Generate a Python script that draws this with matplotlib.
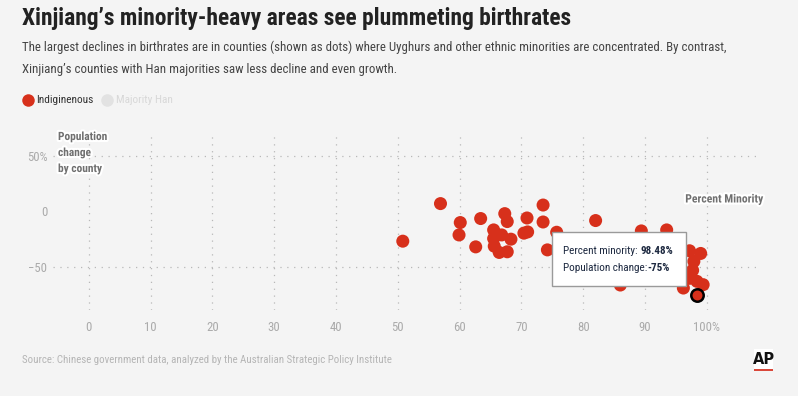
import matplotlib
matplotlib.use("Agg")
import matplotlib.pyplot as plt
import matplotlib.patheffects as pe
from matplotlib import font_manager
from matplotlib.lines import Line2D
from matplotlib.patches import Rectangle

# percent minority (x) and population change % (y)
minority = [50.8, 56.9, 60.1, 59.9, 63.4, 62.6, 67.3, 67.7, 65.5, 65.5,
            65.6, 66.8, 68.3, 66.4, 67.7, 70.9, 73.5, 73.5, 70.4, 71.0,
            74.2, 75.7, 82.0, 86.0, 89.4, 93.5, 97.2, 99.0, 97.9, 97.7,
            97.2, 98.4, 99.4, 96.2]
change = [-26.8, 6.9, -10.1, -21.2, -6.5, -31.9, -2.1, -9.2, -16.7, -24.4,
          -31.3, -21.2, -25.0, -36.9, -36.3, -6.0, 5.6, -9.6, -19.6, -18.5,
          -34.6, -18.8, -8.3, -66.1, -17.6, -16.7, -35.4, -37.8, -44.9, -52.9,
          -60.1, -62.8, -65.8, -68.8]

# the county under the tooltip
hl_minority = 98.48
hl_change = -75

x_ticks = [0, 10, 20, 30, 40, 50, 60, 70, 80, 90, 100]
x_labels = ["0", "10", "20", "30", "40", "50", "60", "70", "80", "90", "100%"]
y_ticks = [50, 0, -50]
y_labels = ["50%", "0", "\u221250"]

RED = "#d7301b"
BG = "#f4f4f4"
W, H = 798, 396

names = {f.name for f in font_manager.fontManager.ttflist}
cond = next((n for n in ["Roboto Condensed", "Liberation Sans Narrow", "Open Sans Condensed"]
             if n in names), "DejaVu Sans")
plt.rcParams["font.family"] = [cond, "DejaVu Sans"]


def fx(px):
    return px / W


def fy(py):
    return 1 - py / H


fig = plt.figure(figsize=(W / 100, H / 100), dpi=100)
fig.patch.set_facecolor(BG)

ax = fig.add_axes([fx(53), fy(310), fx(760) - fx(53), fy(135) - fy(310)])
ax.set_facecolor(BG)
ax.set_xlim(-5.8, 108.6)
ax.set_ylim(-88.5, 68.4)
for s in ax.spines.values():
    s.set_visible(False)

# dotted grid
for v in x_ticks:
    ax.axvline(v, color="#b8b8b8", lw=0.9, ls=(0, (1, 4.5)), zorder=0)
for v in [50, -50]:
    ax.axhline(v, color="#b8b8b8", lw=0.9, ls=(0, (1, 4.5)), zorder=0)

ax.set_xticks(x_ticks)
ax.set_xticklabels(x_labels)
ax.set_yticks(y_ticks)
ax.set_yticklabels(y_labels)
ax.tick_params(length=0, colors="#aaaaaa", labelsize=9.2)
ax.tick_params(axis="x", pad=8)
ax.tick_params(axis="y", pad=4)

ax.scatter(minority, change, s=88, color=RED, edgecolors="none", zorder=3)
ax.scatter([hl_minority], [hl_change], s=80, color=RED, edgecolors="black",
           linewidths=1.8, zorder=4)

halo = [pe.withStroke(linewidth=3, foreground="white")]
for py, line in [(137, "Population"), (153, "change"), (169, "by county")]:
    fig.text(fx(58), fy(py), line, ha="left", va="center",
             fontsize=8.2, fontweight="bold", color="#707070", path_effects=halo)
fig.text(fx(763), fy(199), "Percent Minority", ha="right", va="center",
         fontsize=8.4, fontweight="bold", color="#707070", path_effects=halo)

# title block
fig.text(fx(22), fy(18), "Xinjiang\u2019s minority-heavy areas see plummeting birthrates",
         ha="left", va="center", fontsize=16.9, fontweight="bold", color="#222222")
fig.text(fx(22), fy(47), "The largest declines in birthrates are in counties (shown as dots) where "
         "Uyghurs and other ethnic minorities are concentrated. By contrast,",
         ha="left", va="center", fontsize=9.3, color="#444444")
fig.text(fx(22), fy(69), "Xinjiang\u2019s counties with Han majorities saw less decline and even growth.",
         ha="left", va="center", fontsize=9.3, color="#444444")

# legend
fig.add_artist(Line2D([fx(28)], [fy(100)], marker="o", ms=9, color=RED, mec="none"))
fig.text(fx(36.5), fy(100), "Indiginenous", ha="left", va="center", fontsize=8.2, color="#333333")
fig.add_artist(Line2D([fx(107)], [fy(100)], marker="o", ms=9, color="#e2e2e2", mec="none"))
fig.text(fx(116), fy(100), "Majority Han", ha="left", va="center", fontsize=8.2, color="#d8d8d8")

# tooltip
fig.add_artist(Rectangle((fx(552), fy(286)), fx(686) - fx(552), fy(232) - fy(286),
                         transform=fig.transFigure, facecolor="white",
                         edgecolor="#9a9a9a", lw=1, zorder=5))
renderer = fig.canvas.get_renderer()
tip_color = "#1d2940"
for py, lab, val in [(251, "Percent minority: ", f"{hl_minority:.2f}%"),
                     (268, "Population change:", f"{hl_change}%")]:
    t = fig.text(fx(563), fy(py), lab, ha="left", va="center", fontsize=8,
                 color=tip_color, zorder=6)
    bb = t.get_window_extent(renderer)
    fig.text(bb.x1 / W, fy(py), val, ha="left", va="center", fontsize=8,
             fontweight="bold", color=tip_color, zorder=6)

# footer
fig.text(fx(22), fy(360), "Source: Chinese government data, analyzed by the Australian Strategic Policy Institute",
         ha="left", va="center", fontsize=7.8, color="#b5b5b5")
fig.add_artist(Rectangle((fx(754), fy(370)), fx(773) - fx(754), fy(349) - fy(370),
                         transform=fig.transFigure, facecolor="white", edgecolor="none"))
fig.add_artist(Rectangle((fx(754), fy(371)), fx(773) - fx(754), fy(369) - fy(371),
                         transform=fig.transFigure, facecolor="#d9473a", edgecolor="none"))
fig.text(fx(763.5), fy(359), "AP", ha="center", va="center", fontsize=10.5,
         fontweight="bold", color="#111111", family="DejaVu Sans")

fig.savefig("out.png", dpi=100, facecolor=BG)
